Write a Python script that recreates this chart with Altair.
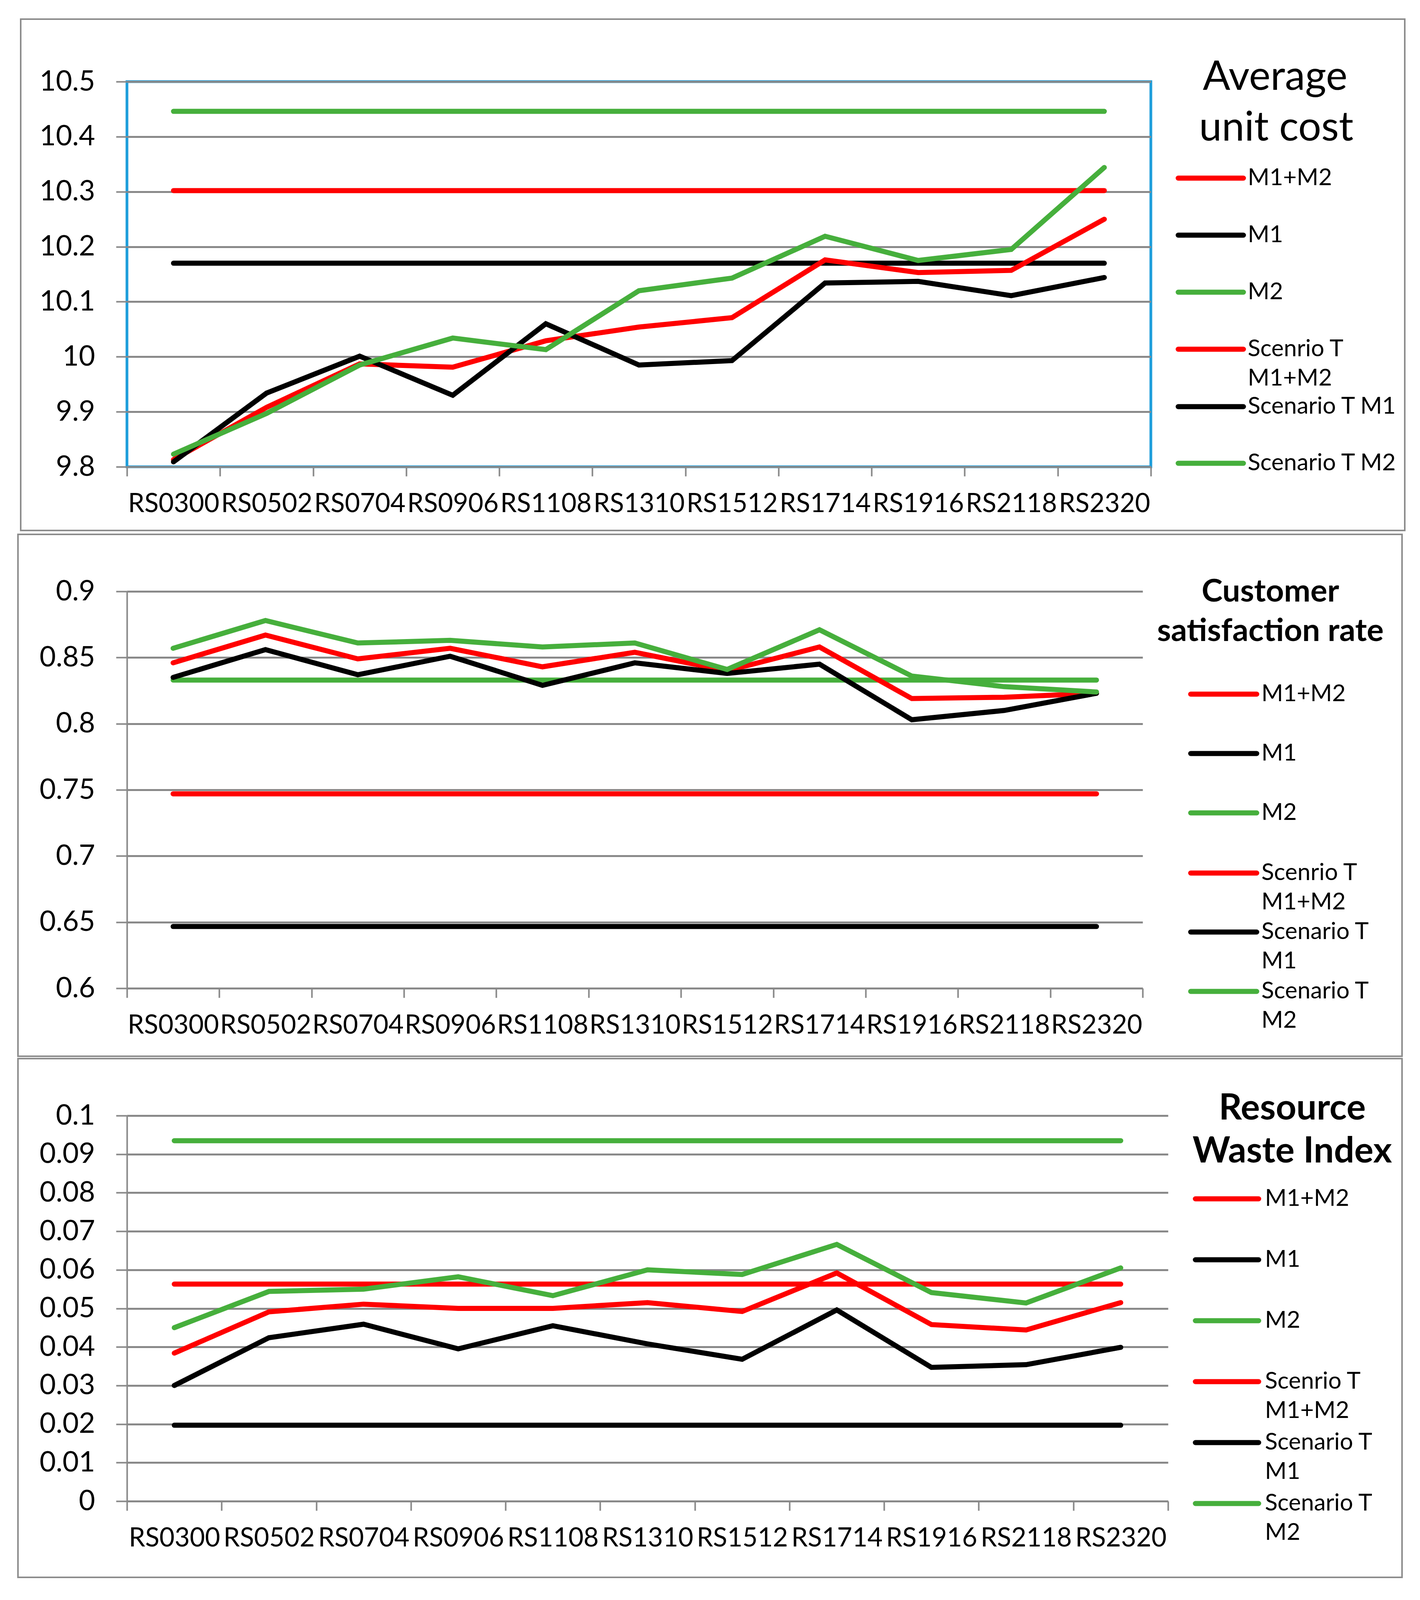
import altair as alt
import pandas as pd

categories = ["RS0300", "RS0502", "RS0704", "RS0906", "RS1108", "RS1310",
              "RS1512", "RS1714", "RS1916", "RS2118", "RS2320"]
series_names = ["M1+M2", "M1", "M2", "Scenrio T M1+M2", "Scenario T M1", "Scenario T M2"]
series_colors = ["#FF0000", "#000000", "#46AF3C", "#FF0000", "#000000", "#46AF3C"]

# Panel 1: Average unit cost
cost_m1m2 = 10.302
cost_m1 = 10.170
cost_m2 = 10.446
cost_t_m1m2 = [9.813, 9.908, 9.987, 9.981, 10.029, 10.054, 10.071, 10.176, 10.153, 10.157, 10.250]
cost_t_m1 = [9.809, 9.934, 10.001, 9.930, 10.060, 9.985, 9.993, 10.134, 10.137, 10.111, 10.144]
cost_t_m2 = [9.823, 9.897, 9.985, 10.034, 10.013, 10.120, 10.143, 10.219, 10.175, 10.195, 10.344]
cost_ticks = [9.8, 9.9, 10.0, 10.1, 10.2, 10.3, 10.4, 10.5]

# Panel 2: Customer satisfaction rate
sat_m1m2 = 0.747
sat_m1 = 0.6467
sat_m2 = 0.833
sat_t_m1m2 = [0.846, 0.867, 0.849, 0.857, 0.843, 0.854, 0.840, 0.858, 0.819, 0.820, 0.823]
sat_t_m1 = [0.835, 0.856, 0.837, 0.851, 0.829, 0.846, 0.838, 0.845, 0.803, 0.810, 0.823]
sat_t_m2 = [0.857, 0.878, 0.861, 0.863, 0.858, 0.861, 0.841, 0.871, 0.836, 0.828, 0.824]
sat_ticks = [0.6, 0.65, 0.7, 0.75, 0.8, 0.85, 0.9]

# Panel 3: Resource Waste Index
w_m1m2 = 0.0563
w_m1 = 0.0197
w_m2 = 0.0935
w_t_m1m2 = [0.0384, 0.0491, 0.0511, 0.0500, 0.0500, 0.0515, 0.0492, 0.0592, 0.0458, 0.0444, 0.0515]
w_t_m1 = [0.0300, 0.0424, 0.0459, 0.0395, 0.0455, 0.0408, 0.0368, 0.0496, 0.0347, 0.0354, 0.0399]
w_t_m2 = [0.0450, 0.0544, 0.0550, 0.0582, 0.0533, 0.0600, 0.0588, 0.0666, 0.0541, 0.0514, 0.0605]
w_ticks = [0, 0.01, 0.02, 0.03, 0.04, 0.05, 0.06, 0.07, 0.08, 0.09, 0.1]

FONT = "Lato"
GRID = "#898989"
BORDER = "#8C8C8C"
BLUE = "#1E9EDB"
LEG_FONT = 60
LEG_LINE = 75


def make_df(constants, scenarios):
    rows = []
    for name, v in zip(series_names[:3], constants):
        for c in categories:
            rows.append({"cat": c, "series": name, "value": v})
    for name, vals in zip(series_names[3:], scenarios):
        for c, v in zip(categories, vals):
            rows.append({"cat": c, "series": name, "value": v})
    return pd.DataFrame(rows)


def one():
    return alt.Data(values=[{}])


def text_layer(text, tx, ty, size, weight="normal", align="center"):
    return (alt.Chart(one())
            .mark_text(text=text, font=FONT, fontSize=size, fontWeight=weight,
                       align=align, baseline="middle", color="black")
            .encode(x=alt.value(tx), y=alt.value(ty)))


def panel(df, ydomain, yticks, width, height, box, titles, title_size, title_weight,
          leg, wraps, blue_border):
    color = alt.Color("series:N", scale=alt.Scale(domain=series_names, range=series_colors),
                      legend=None)
    x = alt.X("cat:N", sort=categories, bandPosition=0.5,
              scale=alt.Scale(type="band", paddingInner=0, paddingOuter=0),
              axis=alt.Axis(title=None, labelAngle=0, tickBand="extent", tickSize=24,
                            labelPadding=38, labelFontSize=67, labelLimit=0,
                            labelOverlap=False, grid=False, domainWidth=5, tickWidth=4))
    y = alt.Y("value:Q", scale=alt.Scale(domain=ydomain, nice=False, zero=False),
              axis=alt.Axis(title=None, values=yticks, format="~g", tickSize=28,
                            labelPadding=54, labelFontSize=72, grid=True,
                            domain=not blue_border, domainWidth=4, tickWidth=4,
                            gridWidth=5))
    layers = []
    bx1, bx2, by1, by2 = box
    layers.append(
        alt.Chart(one()).mark_rect(fillOpacity=0, stroke=BORDER, strokeWidth=4).encode(
            x=alt.value(bx1), x2=alt.value(bx2), y=alt.value(by1), y2=alt.value(by2))
    )
    for s in series_names:
        layers.append(
            alt.Chart(df).transform_filter(alt.datum.series == s)
            .mark_line(strokeWidth=13, strokeCap="round")
            .encode(x=x, y=y, color=color)
        )
    for text, tx, ty in titles:
        layers.append(text_layer(text, tx, ty, title_size, title_weight))
    # legend (Excel style: evenly spaced rows, wrapped labels)
    sx1, sx2, lx = leg["x"]
    for name, col, ly in zip(series_names, series_colors, leg["rows"]):
        layers.append(
            alt.Chart(one()).mark_rule(strokeWidth=13, strokeCap="round", color=col)
            .encode(x=alt.value(sx1), x2=alt.value(sx2), y=alt.value(ly))
        )
        for i, part in enumerate(wraps.get(name, [name])):
            layers.append(text_layer(part, lx, ly + i * LEG_LINE, LEG_FONT, align="left"))
    ch = alt.layer(*layers).properties(width=width, height=height)
    if blue_border:
        ch = ch.properties(view=alt.ViewBackground(stroke=BLUE, strokeWidth=7))
    return ch


df1 = make_df([cost_m1m2, cost_m1, cost_m2], [cost_t_m1m2, cost_t_m1, cost_t_m2])
df2 = make_df([sat_m1m2, sat_m1, sat_m2], [sat_t_m1m2, sat_t_m1, sat_t_m2])
df3 = make_df([w_m1m2, w_m1, w_m2], [w_t_m1m2, w_t_m1, w_t_m2])

wrap_all = {"Scenrio T M1+M2": ["Scenrio T", "M1+M2"],
            "Scenario T M1": ["Scenario T", "M1"],
            "Scenario T M2": ["Scenario T", "M2"]}

p1 = panel(df1, [9.8, 10.5], cost_ticks, 2621, 986, (-272, 3271, -160, 1149),
           [("Average", 2939, -10), ("unit cost", 2942, 120)], 104, "normal",
           {"x": (2691, 2858, 2869), "rows": [247, 393, 539, 685, 832, 977]},
           {"Scenrio T M1+M2": ["Scenrio T", "M1+M2"]}, True)
p2 = panel(df2, [0.6, 0.9], sat_ticks, 2600, 1016, (-279, 3264, -146, 1190),
           [("Customer", 2927, 2), ("satisfaction rate", 2927, 103)], 81, "bold",
           {"x": (2723, 2892, 2904), "rows": [263, 415, 567, 721, 872, 1024]},
           wrap_all, False)
p3 = panel(df3, [0, 0.1], w_ticks, 2665, 987, (-279, 3264, -146, 1182),
           [("Resource", 2983, -18), ("Waste Index", 2983, 92)], 92, "bold",
           {"x": (2735, 2897, 2913), "rows": [213, 369, 525, 681, 837, 993]},
           wrap_all, False)

chart = (
    alt.vconcat(p1, p2, p3, spacing=2)
    .resolve_scale(x="independent", y="independent", color="independent")
    .properties(padding={"left": 36, "top": 35, "right": 10, "bottom": 10})
    .configure_view(stroke=None)
    .configure_axis(labelFont=FONT, labelColor="black", gridColor=GRID,
                    domainColor=GRID, tickColor=GRID)
)

chart.save("out.html", embed_options={"renderer": "svg", "actions": False})
